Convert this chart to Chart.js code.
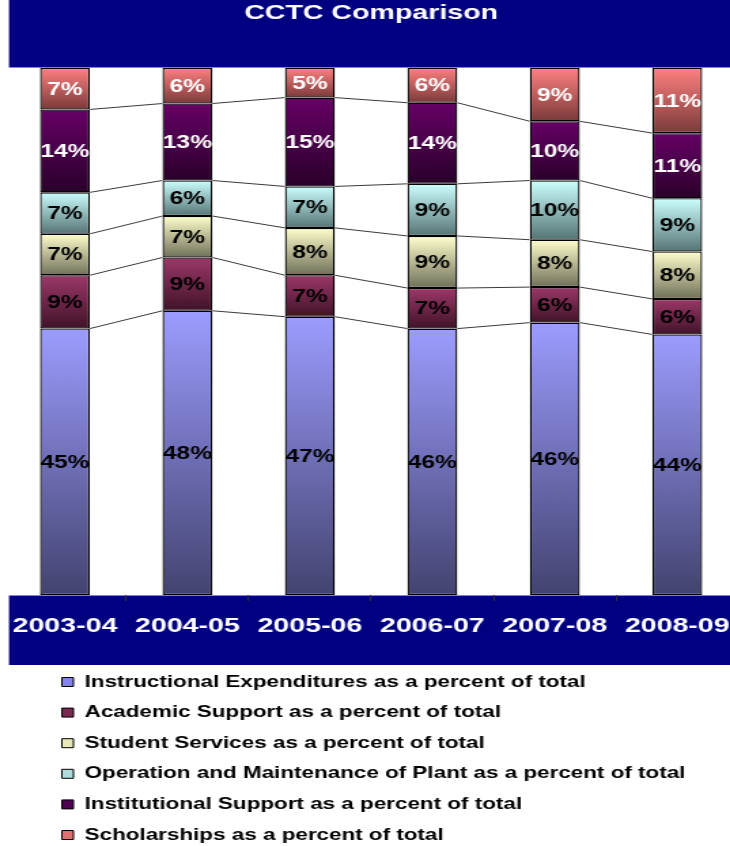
<!DOCTYPE html>
<html>
<head>
<meta charset="utf-8">
<title>CCTC Comparison</title>
<script src="https://cdn.jsdelivr.net/npm/chart.js@4.4.1/dist/chart.umd.min.js"></script>
<style>
  html, body { margin: 0; padding: 0; background: #fff; overflow: hidden; }
</style>
</head>
<body>
<!-- the drawing is rendered narrow and widened horizontally, giving the wide lettering -->
<canvas id="chart" width="548" height="846" style="display:block;width:745.3px;height:846px"></canvas>
<script>
// Fiscal years
const categories = ['2003-04', '2004-05', '2005-06', '2006-07', '2007-08', '2008-09'];

// Each category as a percent of total expenditures
const instructional   = [45, 48, 47, 46, 46, 44];
const academicSupport = [9, 9, 7, 7, 6, 6];
const studentServices = [7, 7, 8, 9, 8, 8];
const plantOperation  = [7, 6, 7, 9, 10, 9];
const institutional   = [14, 13, 15, 14, 10, 11];
const scholarships    = [7, 6, 5, 6, 9, 11];

const seriesNames = [
  'Instructional Expenditures as a percent of total',
  'Academic Support as a percent of total',
  'Student Services as a percent of total',
  'Operation and Maintenance of Plant as a percent of total',
  'Institutional Support as a percent of total',
  'Scholarships as a percent of total'
];
const series = [instructional, academicSupport, studentServices, plantOperation, institutional, scholarships];

// Vertical gradient per series: [top, bottom]
const fills = [
  ['#9C9CFF', '#434370'],
  ['#9C3868', '#401329'],
  ['#FFFFCC', '#70705A'],
  ['#CCFFFF', '#567474'],
  ['#660066', '#2A002A'],
  ['#FF8080', '#7A3A3A']
];
const legendFills = ['#8484E6', '#7C2A52', '#E8E8B8', '#ACDCDC', '#500050', '#E07070'];
const labelColors = ['#000', '#000', '#000', '#000', '#fff', '#fff'];

const NAVY = '#000080';
const FONT = '"Liberation Sans", Arial, Helvetica, sans-serif';

// Stack each year to 100%
const totals = categories.map((_, i) => series.reduce((t, s) => t + s[i], 0));
const shares = series.map(s => s.map((v, i) => v / totals[i] * 100));

function segmentFill(c) {
  const s = c.datasetIndex;
  const chart = c.chart;
  const y = chart.scales && chart.scales.y;
  if (c.type !== 'data' || !chart.chartArea || !y) return legendFills[s];
  const i = c.dataIndex;
  let start = 0;
  for (let k = 0; k < s; k++) start += shares[k][i];
  const end = start + shares[s][i];
  const g = chart.ctx.createLinearGradient(0, y.getPixelForValue(end), 0, y.getPixelForValue(start));
  g.addColorStop(0, fills[s][0]);
  g.addColorStop(1, fills[s][1]);
  return g;
}

// Navy title band and axis band, each edged with a grey rule
const bands = {
  id: 'bands',
  beforeDraw(chart) {
    const {ctx, width, chartArea} = chart;
    const x0 = 6.6;
    ctx.save();
    ctx.fillStyle = NAVY;
    ctx.fillRect(x0, 0, width - x0, chartArea.top - 1);
    ctx.fillRect(x0, chartArea.bottom + 1, width - x0, 665 - chartArea.bottom - 1);
    ctx.fillStyle = '#8a8a8a';
    ctx.fillRect(x0, chartArea.top - 1, width - x0, 1);
    ctx.fillRect(x0, chartArea.bottom, width - x0, 1);
    ctx.restore();
  }
};

// Series lines joining segment tops between neighbouring bars, and value labels
const seriesLinesAndLabels = {
  id: 'seriesLinesAndLabels',
  afterDatasetsDraw(chart) {
    const ctx = chart.ctx;
    ctx.save();
    ctx.strokeStyle = '#3a3a3a';
    ctx.lineWidth = 1;
    for (let s = 0; s < series.length - 1; s++) {
      const bars = chart.getDatasetMeta(s).data;
      for (let i = 0; i < bars.length - 1; i++) {
        const a = bars[i], b = bars[i + 1];
        ctx.beginPath();
        ctx.moveTo(a.x + a.width / 2, a.y);
        ctx.lineTo(b.x - b.width / 2, b.y);
        ctx.stroke();
      }
    }
    ctx.font = 'bold 18px ' + FONT;
    ctx.textAlign = 'center';
    ctx.textBaseline = 'middle';
    series.forEach((vals, s) => {
      ctx.fillStyle = labelColors[s];
      chart.getDatasetMeta(s).data.forEach((bar, i) => {
        ctx.fillText(vals[i] + '%', bar.x, (bar.y + bar.base) / 2 + 1);
      });
    });
    ctx.restore();
  }
};

// Legend list sits indented from the left edge
const legendIndent = {
  id: 'legendIndent',
  afterLayout(chart) {
    const lg = chart.legend;
    const w = lg.width;
    lg.left = 31.4;
    lg.right = lg.left + w;
    lg.top += 1;
    lg.bottom += 1;
  }
};

new Chart(document.getElementById('chart'), {
  type: 'bar',
  data: {
    labels: categories,
    datasets: series.map((_, s) => ({
      label: seriesNames[s],
      data: shares[s],
      backgroundColor: segmentFill,
      borderColor: '#000',
      borderWidth: 1.3,
      borderSkipped: false,
      barPercentage: 0.408,
      categoryPercentage: 1
    }))
  },
  options: {
    responsive: false,
    devicePixelRatio: 1,
    animation: false,
    layout: { padding: { top: 0, left: 2.76, right: 4.8, bottom: -6.25 } },
    scales: {
      x: {
        stacked: true,
        grid: {
          display: true, drawOnChartArea: false, drawTicks: true, tickLength: 6, offset: true,
          tickColor: (c) => (c.index === 0 ? 'rgba(0,0,0,0)' : '#333')
        },
        border: { display: false },
        ticks: {
          color: '#fff',
          font: { family: FONT, size: 21, weight: 'bold', lineHeight: 2.42 },
          padding: 0,
          maxRotation: 0,
          autoSkip: false
        },
        afterFit(scale) { scale.height = 63.65; }
      },
      y: { stacked: true, min: 0, max: 100, display: false }
    },
    plugins: {
      title: {
        display: true,
        text: 'CCTC Comparison',
        color: '#fff',
        font: { family: FONT, size: 21, weight: 'bold', lineHeight: 1 },
        padding: { top: 3, bottom: 44 }
      },
      legend: {
        display: true,
        position: 'bottom',
        align: 'start',
        labels: {
          color: '#000',
          font: { family: FONT, size: 16.5, weight: 'bold' },
          boxWidth: 8.5,
          boxHeight: 9,
          padding: 14.1,
          generateLabels(chart) {
            return Chart.defaults.plugins.legend.labels.generateLabels(chart).map((it, i) => ({
              ...it, fillStyle: legendFills[i], strokeStyle: '#000', lineWidth: 1
            }));
          }
        }
      },
      tooltip: { enabled: false }
    }
  },
  plugins: [bands, seriesLinesAndLabels, legendIndent]
});
</script>
</body>
</html>
